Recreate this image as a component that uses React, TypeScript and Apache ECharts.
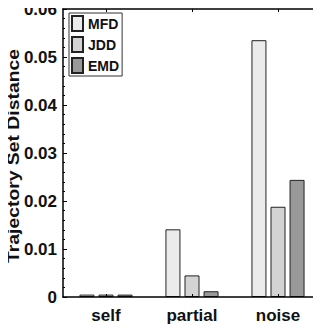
import React, { useEffect, useRef } from "react";
import * as echarts from "echarts";

const categories = ["self", "partial", "noise"];
const seriesNames = ["MFD", "JDD", "EMD"];
const mfdValues = [0.0005, 0.0141, 0.0535];
const jddValues = [0.0005, 0.0045, 0.0188];
const emdValues = [0.0005, 0.0012, 0.0244];
const yTicks = [0, 0.01, 0.02, 0.03, 0.04, 0.05, 0.06];

const colors = ["#ebebeb", "#d3d3d3", "#999999"];
const FONT = "'Liberation Sans', Arial, Helvetica, sans-serif";
const INK = "#000000";

function yAxisDef(position: "left" | "right", withLabels: boolean) {
  return {
    type: "value",
    position,
    min: yTicks[0],
    max: yTicks[yTicks.length - 1],
    interval: 0.01,
    z: 10,
    splitLine: { show: false },
    axisLine: { show: true, onZero: false, lineStyle: { color: INK, width: 1.5 } },
    axisTick: { show: true, inside: true, length: 4, lineStyle: { color: INK, width: 1 } },
    minorTick: { show: true, splitNumber: 5, length: 2, lineStyle: { color: INK, width: 1 } },
    axisLabel: withLabels
      ? {
          fontFamily: FONT,
          fontWeight: "bold",
          fontSize: 17,
          color: "#111",
          margin: 6,
          formatter: (v: number) => (v === 0 ? "0" : v.toFixed(2)),
        }
      : { show: false },
  };
}

function xAxisDef(position: "top" | "bottom", withLabels: boolean) {
  return {
    type: "category",
    position,
    data: categories,
    z: 10,
    axisLine: { show: true, onZero: false, lineStyle: { color: INK, width: 1.5 } },
    axisTick: { show: true, inside: true, alignWithLabel: true, length: 3, lineStyle: { color: INK, width: 1 } },
    axisLabel: withLabels
      ? { fontFamily: FONT, fontWeight: "bold", fontSize: 17, color: "#111", margin: 10 }
      : { show: false },
  };
}

export default function App() {
  const ref = useRef<HTMLDivElement>(null);
  useEffect(() => {
    if (!ref.current) return;
    const chart = echarts.init(ref.current, null, { renderer: "svg" });
    const values = [mfdValues, jddValues, emdValues];
    chart.setOption({
      animation: false,
      grid: { left: 63, top: 9, width: 258, height: 288 },
      legend: {
        orient: "vertical",
        left: 69,
        top: 13,
        data: seriesNames,
        icon: "rect",
        itemWidth: 11,
        itemHeight: 15,
        itemGap: 4,
        padding: [2, 3, 2, 2],
        borderColor: "#333",
        borderWidth: 1,
        backgroundColor: "#fff",
        textStyle: { fontFamily: FONT, fontWeight: "bold", fontSize: 14, color: "#111", lineHeight: 15 },
      },
      xAxis: [xAxisDef("bottom", true), xAxisDef("top", false)],
      yAxis: [yAxisDef("left", true), yAxisDef("right", false)],
      graphic: [
        {
          type: "text",
          x: 14,
          y: 156,
          rotation: Math.PI / 2,
          scaleX: 1.21,
          style: {
            text: "Trajectory Set Distance",
            fontFamily: FONT,
            fontWeight: "bold",
            fontSize: 16,
            fill: "#111",
            align: "center",
            verticalAlign: "middle",
          },
        },
      ],
      series: seriesNames.map((name, i) => ({
        name,
        type: "bar",
        data: values[i],
        barWidth: 15,
        barGap: "27%",
        itemStyle: { color: colors[i], borderColor: "#222", borderWidth: 1 },
      })),
    });
    return () => chart.dispose();
  }, []);
  return <div ref={ref} style={{ width: 321, height: 328, marginLeft: -8, marginTop: -8 }} />;
}
